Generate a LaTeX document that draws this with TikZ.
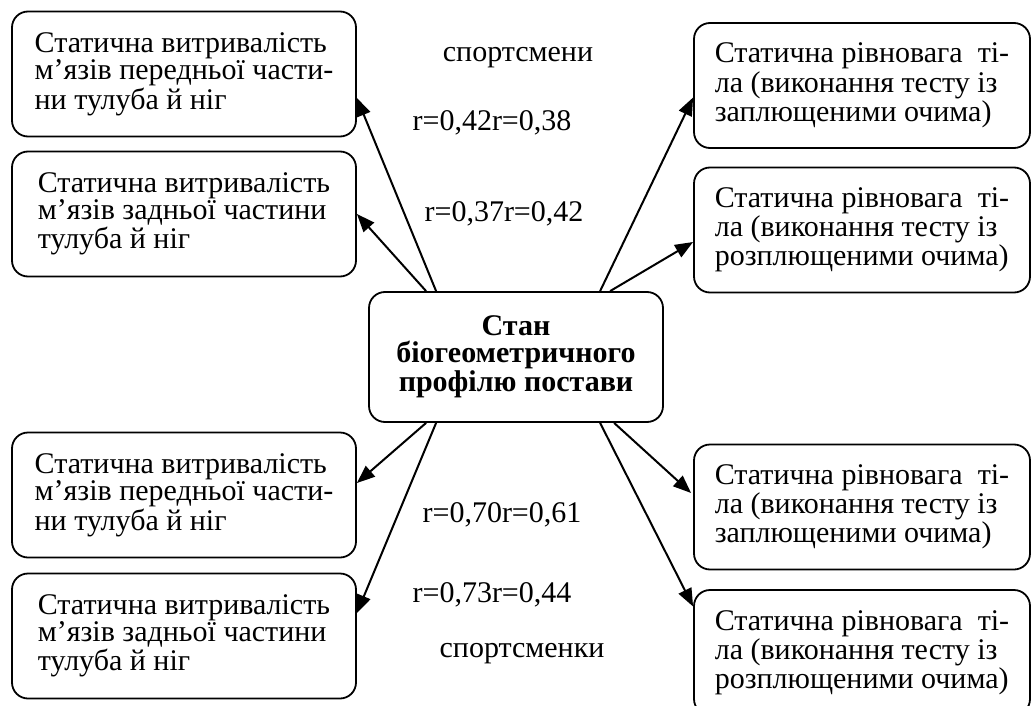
\documentclass[tikz,border=0pt]{standalone}
\usepackage{fontspec}
\setmainfont{Liberation Serif}
\usetikzlibrary{arrows.meta}

\begin{document}
\begin{tikzpicture}[x=0.5pt,y=-0.5pt,
  box/.style={draw,rounded corners=8pt,line width=0.9pt,align=left,
    minimum height=62.5pt,font=\fontsize{15}{13.6}\selectfont},
  lbox/.style={box,minimum width=172pt},
  rbox/.style={box,minimum width=168pt},
  lab/.style={anchor=base,font=\fontsize{15}{13.6}\selectfont},
  link/.style={line width=1pt,-{Triangle[length=9pt,width=7pt]}}]
\useasboundingbox (0,0) rectangle (1033,706);
\node[box,align=center,minimum width=147pt,minimum height=65pt,
  font=\fontsize{15}{13.6}\selectfont\bfseries] (stan) at (516,357)
  {Стан\\біогеометричного\\профілю постави}; %centre
\node[lbox] (perL1) at (184,74) {Статична витривалість\\м’язів передньої части-\\ни тулуба й ніг}; %top left
\node[lbox] (zadL1) at (184,214) {Статична витривалість\\м’язів задньої частини\\тулуба й ніг};
\node[lbox] (perL2) at (184,495) {Статична витривалість\\м’язів передньої части-\\ни тулуба й ніг}; %bottom left
\node[lbox] (zadL2) at (184,636) {Статична витривалість\\м’язів задньої частини\\тулуба й ніг};
\node[rbox] (zapR1) at (862,85.5) {Статична рівновага~ ті-\\ла (виконання тесту із\\заплющеними очима)}; %top right
\node[rbox] (rozR1) at (862,230) {Статична рівновага~ ті-\\ла (виконання тесту із\\розплющеними очима)};
\node[rbox] (zapR2) at (862,507) {Статична рівновага~ ті-\\ла (виконання тесту із\\заплющеними очима)}; %bottom right
\node[rbox] (rozR2) at (862,652.5) {Статична рівновага~ ті-\\ла (виконання тесту із\\розплющеними очима)};
\node[lab] (men) at (518,62) {спортсмени};
\node[lab] (r1) at (492,131) {r=0,42r=0,38};
\node[lab] (r2) at (504,221) {r=0,37r=0,42};
\node[lab] (r3) at (502,522) {r=0,70r=0,61};
\node[lab] (r4) at (492,602) {r=0,73r=0,44};
\node[lab] (women) at (522,657) {спортсменки};
\draw[link] ([xshift=34pt]stan.north west) -- ([yshift=-12pt]perL1.east); %up left
\draw[link] ([xshift=29pt]stan.north west) -- ([yshift=0pt]zadL1.east);
\draw[link] ([xshift=116pt]stan.north west) -- ([yshift=-6pt]zapR1.west); %up right
\draw[link] ([xshift=121pt]stan.north west) -- ([yshift=-6pt]rozR1.west);
\draw[link] ([xshift=29pt]stan.south west) -- ([yshift=6pt]perL2.east); %down left
\draw[link] ([xshift=34pt]stan.south west) -- ([yshift=11.5pt]zadL2.east);
\draw[link] ([xshift=123pt]stan.south west) -- ([xshift=-1pt,yshift=7pt]zapR2.west); %down right
\draw[link] ([xshift=116pt]stan.south west) -- ([yshift=23pt]rozR2.west);
\end{tikzpicture}
\end{document}
